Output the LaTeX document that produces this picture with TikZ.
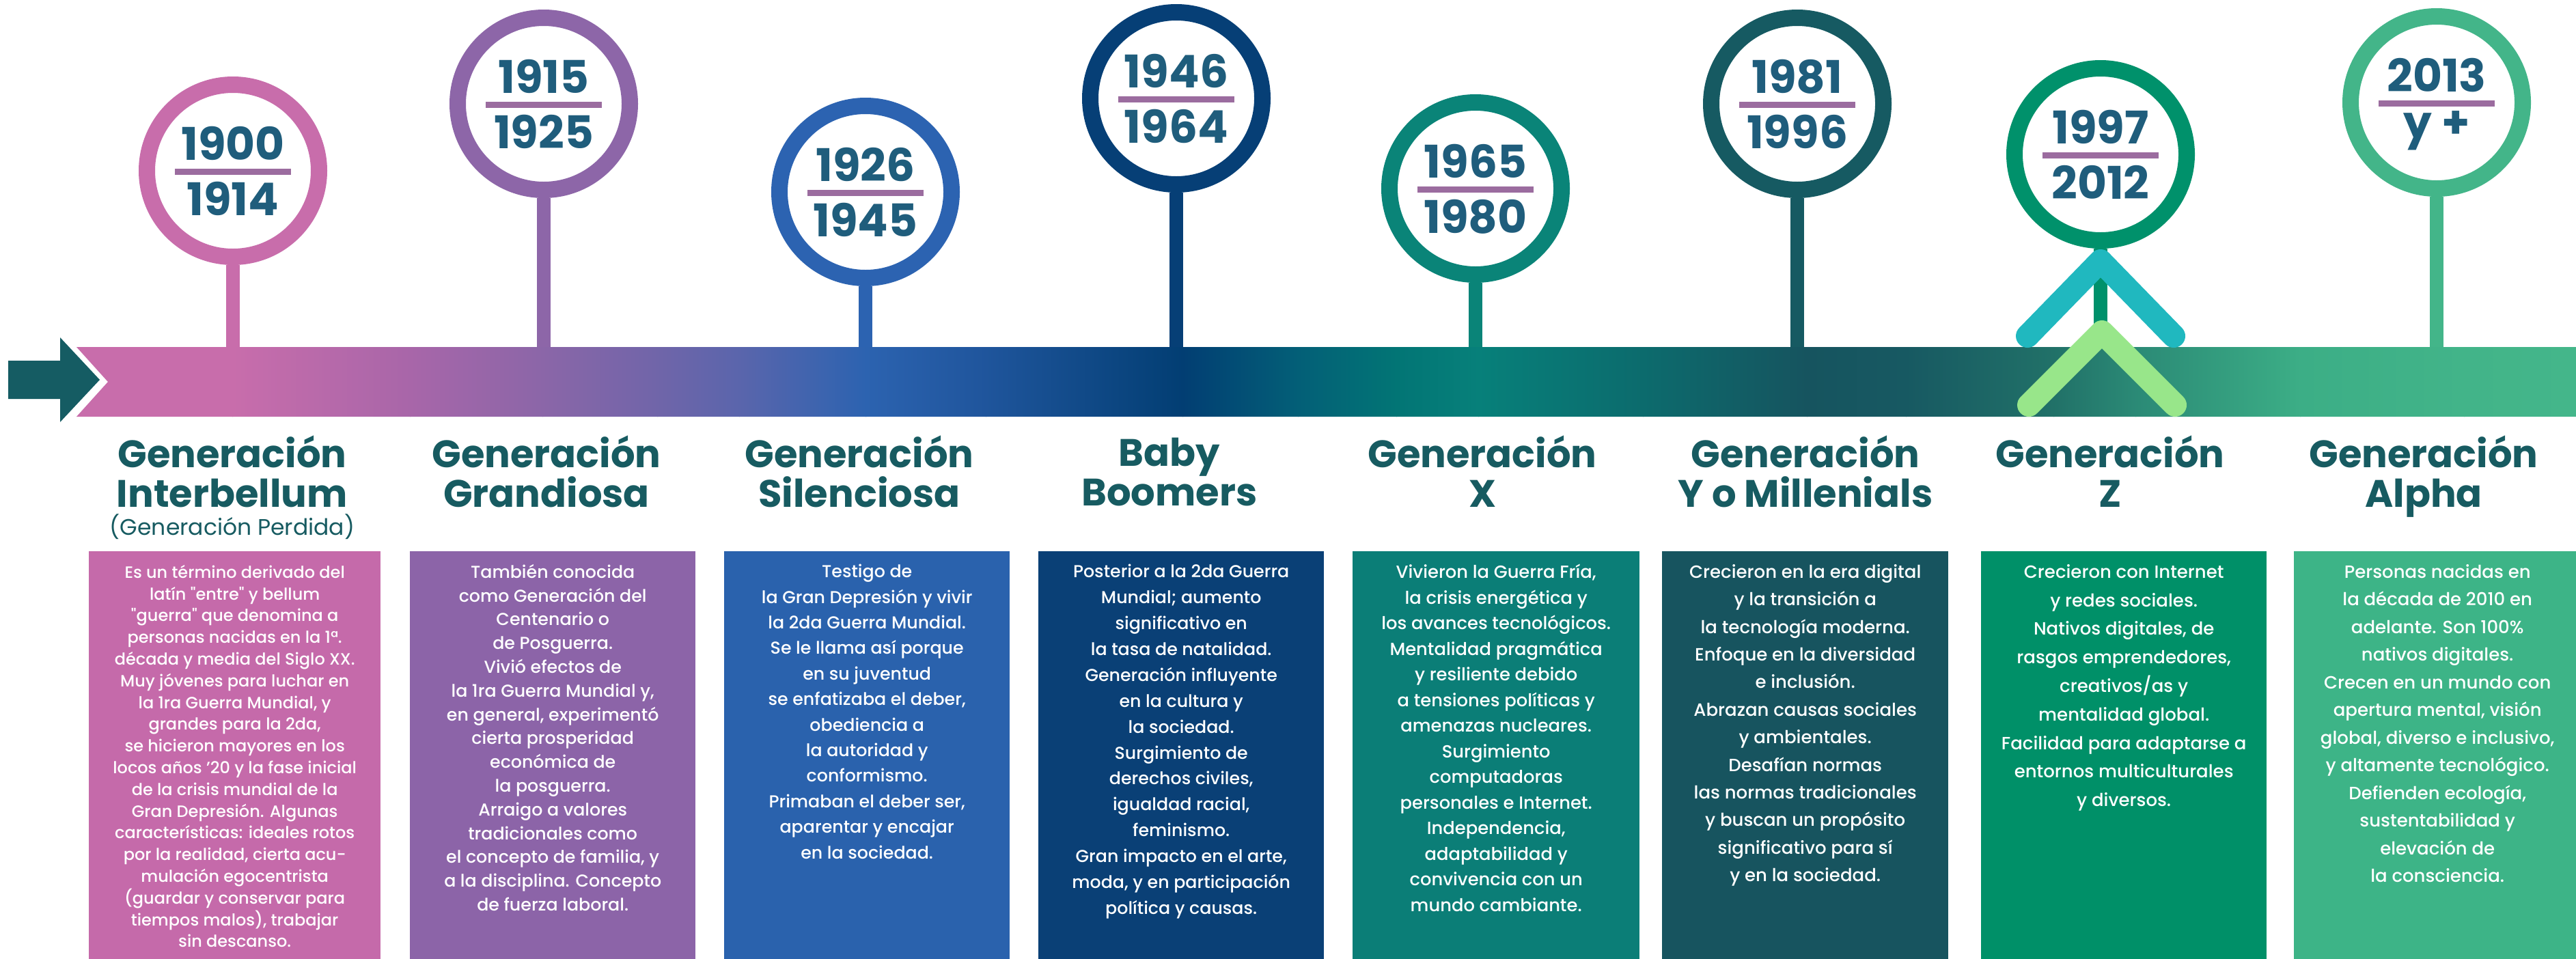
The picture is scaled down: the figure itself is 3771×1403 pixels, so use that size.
\documentclass[tikz,border=0pt]{standalone}
\usepackage{fontspec}
\setmainfont{Poppins}
\IfFontExistsTF{Poppins Medium}{\newfontfamily\bodyfont{Poppins Medium}}{\newfontfamily\bodyfont{Poppins}}
\usetikzlibrary{calc}
\definecolor{ring1}{HTML}{C86DAB}
\definecolor{ring2}{HTML}{8D66A8}
\definecolor{ring3}{HTML}{2C63B1}
\definecolor{ring4}{HTML}{063F76}
\definecolor{ring5}{HTML}{0A8478}
\definecolor{ring6}{HTML}{165A62}
\definecolor{ring7}{HTML}{00916B}
\definecolor{ring8}{HTML}{43B589}
\definecolor{box1}{HTML}{C56AAA}
\definecolor{box2}{HTML}{8C64A8}
\definecolor{box3}{HTML}{2A62AD}
\definecolor{box4}{HTML}{0A4076}
\definecolor{box5}{HTML}{0B7E77}
\definecolor{box6}{HTML}{17545F}
\definecolor{box7}{HTML}{009068}
\definecolor{box8}{HTML}{3DB487}
\definecolor{yearc}{HTML}{1F5D7C}
\definecolor{ulinec}{HTML}{9B6C9F}
\definecolor{headc}{HTML}{175B61}
\definecolor{arrowc}{HTML}{155C63}
\definecolor{chevA}{HTML}{20B8BF}
\definecolor{chevB}{HTML}{98E68A}
\definecolor{g0}{HTML}{C86DAB}
\definecolor{g1}{HTML}{C86DAB}
\definecolor{g2}{HTML}{A866A9}
\definecolor{g3}{HTML}{8B66A8}
\definecolor{g4}{HTML}{7065A9}
\definecolor{g5}{HTML}{5A65AC}
\definecolor{g6}{HTML}{2C63B0}
\definecolor{g7}{HTML}{1F559C}
\definecolor{g8}{HTML}{023E73}
\definecolor{g9}{HTML}{035F77}
\definecolor{g10}{HTML}{027575}
\definecolor{g11}{HTML}{07807A}
\definecolor{g12}{HTML}{0C6B6D}
\definecolor{g13}{HTML}{16545F}
\definecolor{g14}{HTML}{175962}
\definecolor{g15}{HTML}{217168}
\definecolor{g16}{HTML}{2B8A76}
\definecolor{g17}{HTML}{3CAE86}
\definecolor{g18}{HTML}{42B489}
\definecolor{g19}{HTML}{44B68A}
\begin{document}
\begin{tikzpicture}[x=1pt,y=-1pt,
  ringnode/.style={circle, draw=#1, line width=24pt, fill=white, minimum size=252pt, inner sep=0pt},
  stemline/.style={draw=#1, line width=20pt},
  yeartxt/.style={font=\fontsize{66}{66}\selectfont\bfseries, text=yearc, inner sep=0pt},
  uline/.style={fill=ulinec, minimum width=170pt, minimum height=9pt, inner sep=0pt},
  headtxt/.style={font=\fontsize{56}{58}\selectfont\bfseries, text=headc, align=center, inner sep=0pt},
  subtxt/.style={font=\fontsize{33}{33}\selectfont, text=headc, inner sep=0pt},
  boxnode/.style={fill=#1, anchor=north west, inner sep=0pt, minimum height=600pt},
  bodytxt/.style={text=white, align=center, inner sep=0pt, anchor=north},
  chev/.style={draw=#1, line width=34pt, line cap=round, line join=round}
]
\useasboundingbox (0,0) rectangle (3771,1403);
\fill[white] (0,0) rectangle (3771,1403);

% coordinates for bar
\coordinate (bartop) at (0,508);

% gradient bar
\begin{scope}
\clip (112,508) -- (3775,508) -- (3775,610) -- (112,610) -- (158,559) -- cycle;
\foreach \xa/\ca/\xb/\cb in {100/g0/340/g1, 340/g1/600/g2, 600/g2/794/g3, 794/g3/962/g4, 962/g4/1082/g5, 1082/g5/1267/g6, 1267/g6/1443/g7, 1443/g7/1731/g8, 1731/g8/1900/g9, 1900/g9/2044/g10, 2044/g10/2164/g11, 2164/g11/2405/g12, 2405/g12/2645/g13, 2645/g13/2790/g14, 2790/g14/3006/g15, 3006/g15/3126/g16, 3126/g16/3367/g17, 3367/g17/3607/g18, 3607/g18/3775/g19}
  \shade[left color=\ca, right color=\cb] (\xa,505) rectangle (\xb+1,613);
\end{scope}

% left arrow
\fill[arrowc] (12,528) -- (88,528) -- (88,494) -- (146,556) -- (88,618) -- (88,584) -- (12,584) -- cycle;

% circles
\node[ringnode=ring1] (c1) at (341,250) {};
\node[ringnode=ring2] (c2) at (796,152) {};
\node[ringnode=ring3] (c3) at (1267,281) {};
\node[ringnode=ring4] (c4) at (1722,144) {};
\node[ringnode=ring5] (c5) at (2160,276) {};
\node[ringnode=ring6] (c6) at (2631,152) {};
\node[ringnode=ring7] (c7) at (3075,226) {};
\node[ringnode=ring8] (c8) at (3567,150) {};

% stems
\foreach \i in {1,...,8}
  \draw[stemline=ring\i] (c\i.south) -- (c\i.south |- bartop);

% years
\foreach \i/\ya/\yb in {1/1900/1914, 2/1915/1925, 3/1926/1945, 4/1946/1964, 5/1965/1980, 6/1981/1996, 7/1997/2012, 8/2013/y +}{
  \node[uline] (u\i) at ($(c\i)+(0,1)$) {};
  \node[yeartxt] (ya\i) at ($(c\i)+(0,-40)$) {\ya};
  \node[yeartxt] (yb\i) at ($(c\i)+(0,41)$) {\yb};
}

% chevrons at Gen Z
\coordinate (ka1) at (2968,492);
\coordinate (ka2) at (3075,382);
\coordinate (ka3) at (3182,492);
\coordinate (kb1) at (2970,593);
\coordinate (kb2) at (3077,486);
\coordinate (kb3) at (3184,593);
\draw[chev=chevA] (ka1) -- (ka2) -- (ka3);
\draw[chev=chevB] (kb1) -- (kb2) -- (kb3);

% headers
\node[headtxt] (h1) at (340,699) {Generación\\Interbellum\strut};
\node[subtxt] (s1) at (340,771) {(Generación Perdida)};
\node[headtxt] (h2) at (800,699) {Generación\\Grandiosa\strut};
\node[headtxt] (h3) at (1258,699) {Generación\\Silenciosa\strut};
\node[headtxt] (h4) at (1712,699) {Baby\\Boomers\strut};
\node[headtxt] (h5) at (2170,699) {Generación\\X\strut};
\node[headtxt] (h6) at (2643,699) {Generación\\Y o Millenials\strut};
\node[headtxt] (h7) at (3089,699) {Generación\\Z\strut};
\node[headtxt] (h8) at (3548,699) {Generación\\Alpha\strut};

% boxes
\node[boxnode=box1, minimum width=427pt] (bx1) at (130,807) {};
\node[boxnode=box2, minimum width=418pt] (bx2) at (600,807) {};
\node[boxnode=box3, minimum width=418pt] (bx3) at (1060,807) {};
\node[boxnode=box4, minimum width=418pt] (bx4) at (1520,807) {};
\node[boxnode=box5, minimum width=420pt] (bx5) at (1980,807) {};
\node[boxnode=box6, minimum width=419pt] (bx6) at (2433,807) {};
\node[boxnode=box7, minimum width=418pt] (bx7) at (2900,807) {};
\node[boxnode=box8, minimum width=420pt] (bx8) at (3358,807) {};

\node[bodytxt, font=\bodyfont\fontsize{24}{31.8}\selectfont] (t1) at ($(bx1.north)+(0,20)$) {Es un término derivado del\\latín "entre" y bellum\\"guerra" que denomina a\\personas nacidas en la 1ª.\\década y media del Siglo XX.\\Muy jóvenes para luchar en\\la 1ra Guerra Mundial, y\\grandes para la 2da,\\se hicieron mayores en los\\locos años ’20 y la fase inicial\\de la crisis mundial de la\\Gran Depresión. Algunas\\características: ideales rotos\\por la realidad, cierta acu-\\mulación egocentrista\\(guardar y conservar para\\tiempos malos), trabajar\\sin descanso.};

\node[bodytxt, font=\bodyfont\fontsize{25.3}{34.8}\selectfont] (t2) at ($(bx2.north)+(0,19)$) {También conocida\\como Generación del\\Centenario o\\de Posguerra.\\Vivió efectos de\\la 1ra Guerra Mundial y,\\en general, experimentó\\cierta prosperidad\\económica de\\la posguerra.\\Arraigo a valores\\tradicionales como\\el concepto de familia, y\\a la disciplina. Concepto\\de fuerza laboral.};

\node[bodytxt, font=\bodyfont\fontsize{25.3}{37.4}\selectfont] (t3) at ($(bx3.north)+(0,19)$) {Testigo de\\la Gran Depresión y vivir\\la 2da Guerra Mundial.\\Se le llama así porque\\en su juventud\\se enfatizaba el deber,\\obediencia a\\la autoridad y\\conformismo.\\Primaban el deber ser,\\aparentar y encajar\\en la sociedad.};

\node[bodytxt, font=\bodyfont\fontsize{25.3}{37.9}\selectfont] (t4) at ($(bx4.north)+(0,19)$) {Posterior a la 2da Guerra\\Mundial; aumento\\significativo en\\la tasa de natalidad.\\Generación influyente\\en la cultura y\\la sociedad.\\Surgimiento de\\derechos civiles,\\igualdad racial,\\feminismo.\\Gran impacto en el arte,\\moda, y en participación\\política y causas.};

\node[bodytxt, font=\bodyfont\fontsize{25.8}{37.5}\selectfont] (t5) at ($(bx5.north)+(0,19)$) {Vivieron la Guerra Fría,\\la crisis energética y\\los avances tecnológicos.\\Mentalidad pragmática\\y resiliente debido\\a tensiones políticas y\\amenazas nucleares.\\Surgimiento\\computadoras\\personales e Internet.\\Independencia,\\adaptabilidad y\\convivencia con un\\mundo cambiante.};

\node[bodytxt, font=\bodyfont\fontsize{26}{40.4}\selectfont] (t6) at ($(bx6.north)+(0,19)$) {Crecieron en la era digital\\y la transición a\\la tecnología moderna.\\Enfoque en la diversidad\\e inclusión.\\Abrazan causas sociales\\y ambientales.\\Desafían normas\\las normas tradicionales\\y buscan un propósito\\significativo para sí\\y en la sociedad.};

\node[bodytxt, font=\bodyfont\fontsize{26}{41.8}\selectfont] (t7) at ($(bx7.north)+(0,19)$) {Crecieron con Internet\\y redes sociales.\\Nativos digitales, de\\rasgos emprendedores,\\creativos/as y\\mentalidad global.\\Facilidad para adaptarse a\\entornos multiculturales\\y diversos.};

\node[bodytxt, font=\bodyfont\fontsize{26}{40.5}\selectfont] (t8) at ($(bx8.north)+(0,19)$) {Personas nacidas en\\la década de 2010 en\\adelante. Son 100\%\\nativos digitales.\\Crecen en un mundo con\\apertura mental, visión\\global, diverso e inclusivo,\\y altamente tecnológico.\\Defienden ecología,\\sustentabilidad y\\elevación de\\la consciencia.};
\end{tikzpicture}
\end{document}
